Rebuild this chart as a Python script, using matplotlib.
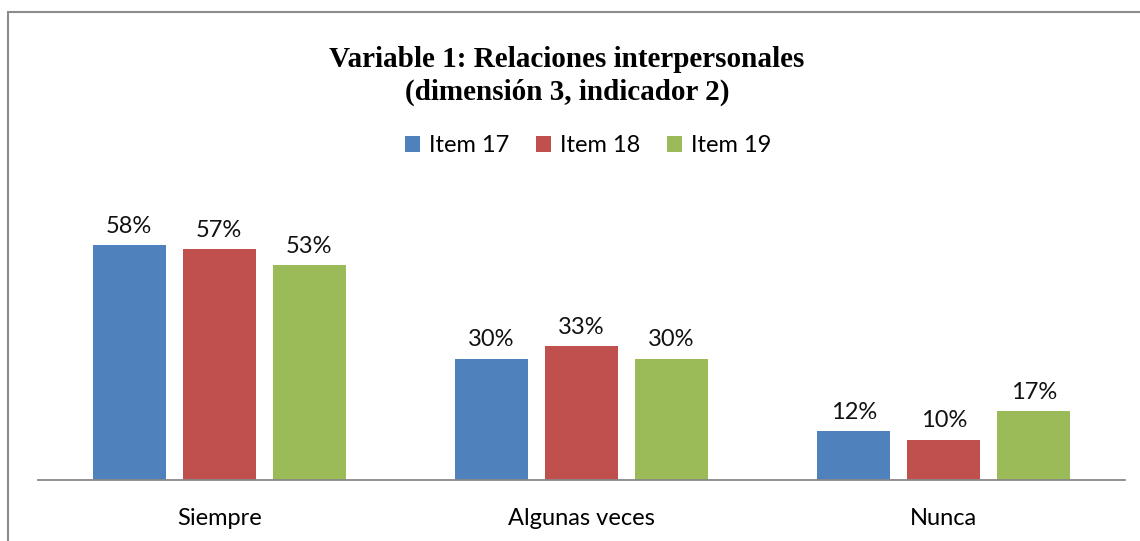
import numpy as np
import matplotlib
matplotlib.use("Agg")
import matplotlib.pyplot as plt
from matplotlib.patches import Rectangle

# data
categories = ["Siempre", "Algunas veces", "Nunca"]
items = ["Item 17", "Item 18", "Item 19"]
item17 = [58, 30, 12]
item18 = [57, 33, 10]
item19 = [53, 30, 17]
colors = ["#4F81BD", "#C0504D", "#9BBB59"]

sans = ["Lato", "DejaVu Sans"]

fig = plt.figure(figsize=(11.4, 5.41), dpi=100)
ax = fig.add_axes([38 / 1140, 61 / 541, 1087 / 1140, 283.5 / 541])

x = np.arange(len(categories))
step = 0.248
width = 0.2015
series = [item17, item18, item19]
for i, vals in enumerate(series):
    pos = x + (i - 1) * step
    ax.bar(pos, vals, width, color=colors[i], label=items[i])
    for xp, v in zip(pos, vals):
        ax.text(xp, v + 2.0, f"{v}%", ha="center", va="bottom",
                fontsize=17, family=sans, color="#111111")

ax.set_xlim(-0.5, 2.5)
ax.set_ylim(0, 70)
ax.set_yticks([])
ax.set_xticks(x)
ax.set_xticklabels(categories, fontsize=17, family=sans)
ax.tick_params(axis="x", length=0, pad=20)
for s in ["top", "right", "left"]:
    ax.spines[s].set_visible(False)
ax.spines["bottom"].set_color("#888888")
ax.spines["bottom"].set_linewidth(1.3)

fig.text(567 / 1140, 1 - 76 / 541,
         "Variable 1: Relaciones interpersonales\n(dimensión 3, indicador 2)",
         ha="center", va="center", fontsize=21, fontweight="bold",
         family="Liberation Serif", linespacing=1.25)

fig.legend(loc="center", bbox_to_anchor=(588 / 1140, 1 - 146 / 541),
           ncol=3, frameon=False, prop={"family": sans, "size": 17},
           handlelength=0.65, handleheight=0.65, handletextpad=0.35,
           columnspacing=1.15)

# outer chart frame
fig.patches.append(Rectangle((8 / 1140, -0.1), 1.2, 1 - 12 / 541 + 0.1,
                             transform=fig.transFigure, fill=False,
                             edgecolor="#8c8c8c", linewidth=1.5))

fig.savefig("out.png", dpi=100)
